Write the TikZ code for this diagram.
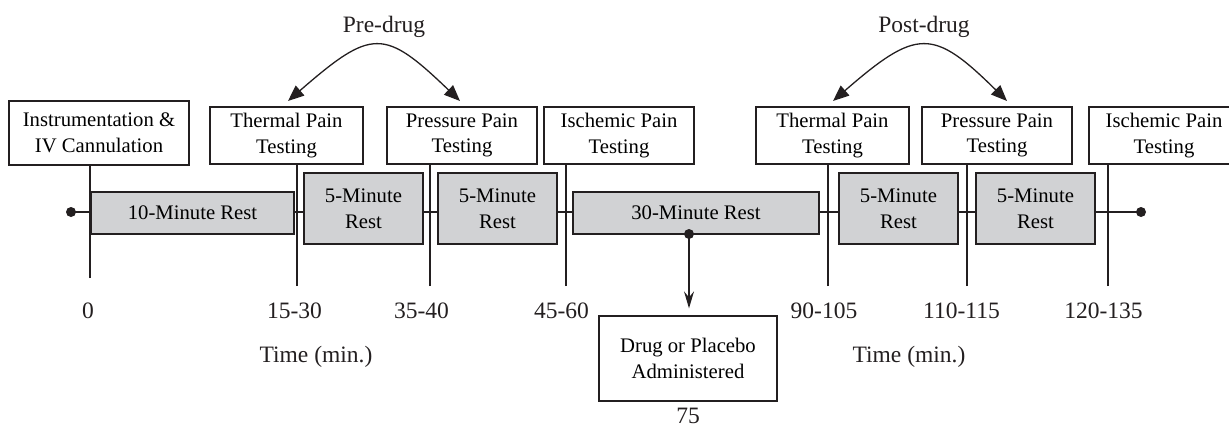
\documentclass[tikz,border=0pt]{standalone}
\usepackage{fontspec}
\setmainfont{Liberation Serif}
\usetikzlibrary{arrows.meta}
\definecolor{restgray}{RGB}{209,210,212}
\definecolor{ink}{RGB}{35,31,32}
\tikzset{
  wbox/.style={draw=ink, line width=1.3pt, fill=white, align=center, inner sep=0pt,
    minimum height=57pt, font=\fontsize{20.7}{25.5}\selectfont},
  gbox/.style={draw=ink, line width=1.3pt, fill=restgray, align=center, inner sep=0pt,
    font=\fontsize{20.7}{26}\selectfont},
  lbl/.style={inner sep=0pt, font=\fontsize{23.5}{28}\selectfont, text=ink},
  tick/.style={draw=ink, line width=1.6pt},
  tline/.style={draw=ink, line width=1.3pt},
  dotn/.style={circle, fill=ink, inner sep=0pt, minimum size=10pt},
  curv/.style={draw=ink, line width=1.3pt, {Triangle[length=16pt,width=13pt]}-{Triangle[length=16pt,width=13pt]}},
  downarr/.style={draw=ink, line width=1.3pt, -{Stealth[length=17pt,width=10pt,inset=6pt]}},
}
\begin{document}
\begin{tikzpicture}[x=1pt, y=-1pt]
\useasboundingbox (0,0) rectangle (1229,425);

% timeline end dots
\node[dotn] (ldot) at (71,212) {};
\node[dotn] (rdot) at (1141,212) {};
\draw[tline] (ldot.center) -- (rdot.center);

% top boxes
\node[wbox, minimum width=180pt, minimum height=64pt] (instr) at (99,133) {Instrumentation \&\\IV Cannulation};
\node[wbox, minimum width=153pt] (th1) at (286.5,135.5) {Thermal Pain\\Testing};
\node[wbox, minimum width=150pt] (pr1) at (462,135.5) {Pressure Pain\\Testing};
\node[wbox, minimum width=150pt] (is1) at (619,135.5) {Ischemic Pain\\Testing};
\node[wbox, minimum width=153pt] (th2) at (832.5,135.5) {Thermal Pain\\Testing};
\node[wbox, minimum width=150pt] (pr2) at (997,135.5) {Pressure Pain\\Testing};
\node[wbox, minimum width=150pt] (is2) at (1164,135.5) {Ischemic Pain\\Testing};

% tick bottoms
\coordinate (t0) at (90,278);
\coordinate (t1) at (297,286);
\coordinate (t2) at (430,286);
\coordinate (t3) at (566,286);
\coordinate (t4) at (828,286);
\coordinate (t5) at (967,286);
\coordinate (t6) at (1108,286);
\draw[tick] (t0) -- (t0 |- instr.south);
\draw[tick] (t1) -- (t1 |- th1.south);
\draw[tick] (t2) -- (t2 |- pr1.south);
\draw[tick] (t3) -- (t3 |- is1.south);
\draw[tick] (t4) -- (t4 |- th2.south);
\draw[tick] (t5) -- (t5 |- pr2.south);
\draw[tick] (t6) -- (t6 |- is2.south);

% rest boxes
\node[gbox, minimum width=203pt, minimum height=42pt] (r10) at (192.5,213) {10-Minute Rest};
\node[gbox, minimum width=119pt, minimum height=71pt] (r5a) at (363.5,208.5) {5-Minute\\Rest};
\node[gbox, minimum width=119pt, minimum height=71pt] (r5b) at (497.5,208.5) {5-Minute\\Rest};
\node[gbox, minimum width=246pt, minimum height=42pt] (r30) at (696,213) {30-Minute Rest};
\node[gbox, minimum width=119pt, minimum height=71pt] (r5c) at (898.5,208.5) {5-Minute\\Rest};
\node[gbox, minimum width=119pt, minimum height=71pt] (r5d) at (1035.5,208.5) {5-Minute\\Rest};

% drug box and arrow
\node[wbox, minimum width=178pt, minimum height=85pt] (drug) at (688,358.5) {Drug or Placebo\\Administered};
\node[dotn] (d30) at (689,234) {};
\draw[downarr, shorten >=7pt] (d30.center) -- (d30.center |- drug.north);

% time labels
\node[lbl] (l0) at (88,311) {0};
\node[lbl] (l1) at (294.5,311) {15-30};
\node[lbl] (l2) at (421.5,311) {35-40};
\node[lbl] (l3) at (561.5,311) {45-60};
\node[lbl] (l4) at (824,311) {90-105};
\node[lbl] (l5) at (961.5,311) {110-115};
\node[lbl] (l6) at (1103.5,311) {120-135};
\node[lbl] (time1) at (316,357) {Time (min.)};
\node[lbl] (time2) at (909,357) {Time (min.)};
\node[lbl] (l75) at (688,416) {75};

% pre/post drug arrows
\node[lbl] (pre) at (384,27) {Pre-drug};
\node[lbl] (post) at (924,27) {Post-drug};
\coordinate (preL) at (288,101);
\coordinate (preR) at (460,101);
\coordinate (postL) at (833,101);
\coordinate (postR) at (1007,101);
\draw[curv] (preL) .. controls (372,28) and (384,28) .. (preR);
\draw[curv] (postL) .. controls (917,28) and (933,28) .. (postR);
\end{tikzpicture}
\end{document}
